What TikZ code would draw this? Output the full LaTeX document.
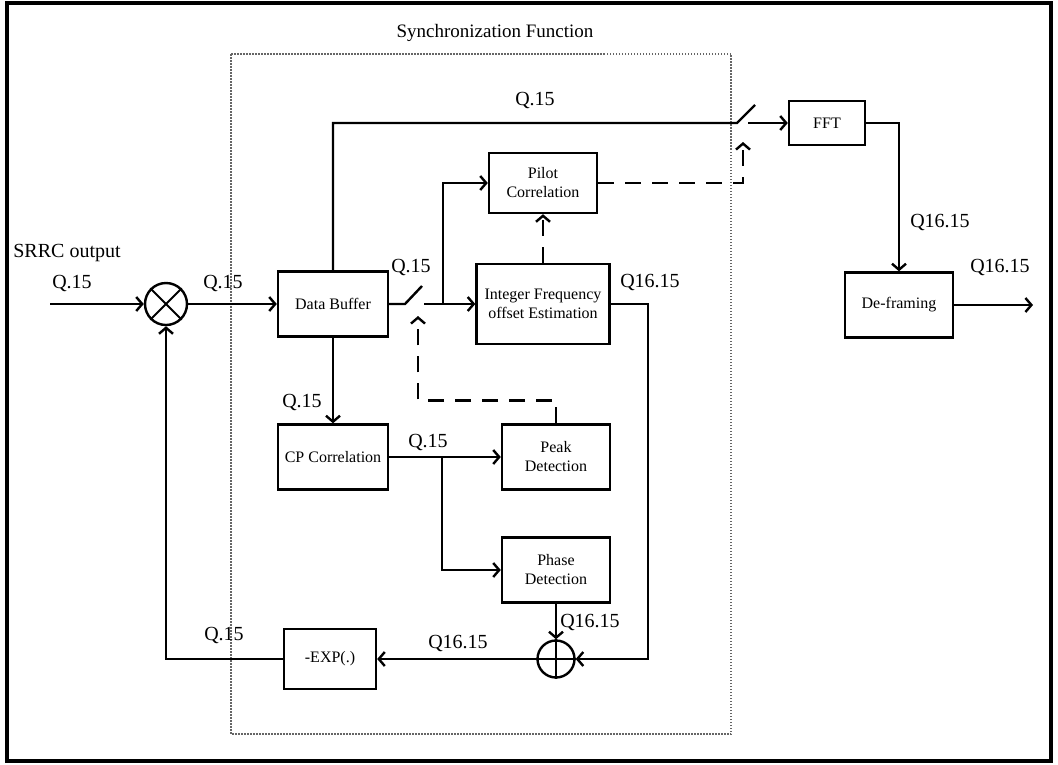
\documentclass[tikz,border=0pt]{standalone}
\usepackage{fontspec}
\setmainfont{Liberation Serif}
\usetikzlibrary{arrows.meta}

\tikzstyle{every node}=[inner sep=0pt, font={\fontsize{16}{19}\selectfont}]
\tikzstyle{block}=[draw, line width=2.4pt, align=center, minimum width=108pt, minimum height=65pt]
\tikzstyle{sum}=[draw, circle, line width=2.4pt]
\tikzstyle{lbl}=[font={\fontsize{20}{24}\selectfont}]
\tikzstyle{wire}=[line width=2.4pt, ->]
\tikzstyle{ctrl}=[line width=2.4pt, dash pattern=on 16pt off 11pt, ->]

\begin{document}
\begin{tikzpicture}[x=1pt, y=-1pt, >={Straight Barb[length=6pt,width=14pt]}]
    \useasboundingbox (0,0) rectangle (1058,764);
    \draw [line width=4pt] (7,3) rectangle (1051,761);
    \draw [black!60, line width=1.5pt, dash pattern=on 1.5pt off 1.5pt] (231,54) rectangle (731,734);
    \node [font={\fontsize{19}{22}\selectfont}] (syncttl) at (495,33) {Synchronization Function};

    % blocks
    \node [block, minimum width=110pt] (buf) at (333,304) {Data Buffer};
    \node [block, minimum width=110pt] (cp) at (333,457) {CP Correlation};
    \node [block, minimum height=60pt] (pilot) at (543,183) {Pilot\\Correlation};
    \node [block, minimum width=133pt, minimum height=80pt] (ife) at (543,304) {Integer Frequency\\offset Estimation};
    \node [block] (peak) at (556,457) {Peak\\Detection};
    \node [block] (phase) at (556,570) {Phase\\Detection};
    \node [block, minimum width=92pt, minimum height=60pt] (exp) at (330,659) {-EXP(.)};
    \node [block, minimum width=76pt, minimum height=44pt] (fft) at (827,123) {FFT};
    \node [block] (defr) at (899,305) {De-framing};
    \node [sum, minimum size=42pt] (mul) at (166,304) {};
    \node [sum, minimum size=37pt] (add) at (556,659) {};
    \draw [line width=2pt] (mul.north west) -- (mul.south east) (mul.north east) -- (mul.south west);
    \draw [line width=2pt] (add.north) -- (add.south) (add.west) -- (add.east);

    % switch points and free ends
    \coordinate (inp) at (50,304);
    \coordinate (outp) at (1033,305);
    \coordinate (swa) at (405,304);
    \coordinate (swb) at (422,286);
    \coordinate (swc) at (424,304);
    \coordinate (ja) at (443,304);
    \coordinate (jb) at (442,457);
    \coordinate (swd) at (737,123);
    \coordinate (swe) at (755,105);
    \coordinate (swf) at (748,123);
    \coordinate (tipa) at (743,142);
    \coordinate (tipb) at (418,316);

    % signal paths
    \draw [wire] (inp) -- (mul.west);
    \draw [wire] (mul.east) -- (buf.west);
    \draw [wire, -] (buf.east) -- (swa) -- (swb);
    \draw [wire] (swc) -- (ife.west);
    \draw [wire] (ja) |- (pilot.west);
    \draw [wire, -] (buf.north) |- (swd) -- (swe);
    \draw [wire] (swf) -- (fft.west);
    \draw [wire] (fft.east) -| (defr.north);
    \draw [wire] (defr.east) -- (outp);
    \draw [wire] (buf.south) -- (cp.north);
    \draw [wire] (cp.east) -- (peak.west);
    \draw [wire] (jb) |- (phase.west);
    \draw [wire] (phase.south) -- (add.north);
    \draw [wire] (ife.east) -- ++(37,0) |- (add.east);
    \draw [wire] (add.west) -- (exp.east);
    \draw [wire] (exp.west) -| (mul.south);

    % control paths
    \draw [ctrl] (pilot.east) -| (tipa);
    \draw [ctrl] (ife.north) -- (pilot.south);
    \draw [ctrl] (peak.north) -- ++(0,-23) -| (tipb);

    % word lengths
    \node [lbl] (srrc) at (67,253) {SRRC output};
    \node [lbl] (qin) at (72,283) {Q.15};
    \node [lbl] (qmul) at (223,283) {Q.15};
    \node [lbl] (qtop) at (535,100) {Q.15};
    \node [lbl] (qsw) at (411,267) {Q.15};
    \node [lbl] (qife) at (650,282) {Q16.15};
    \node [lbl] (qbuf) at (302,402) {Q.15};
    \node [lbl] (qcp) at (428,442) {Q.15};
    \node [lbl] (qphase) at (590,622) {Q16.15};
    \node [lbl] (qadd) at (458,643) {Q16.15};
    \node [lbl] (qexp) at (224,635) {Q.15};
    \node [lbl] (qfft) at (940,222) {Q16.15};
    \node [lbl] (qout) at (1000,267) {Q16.15};
\end{tikzpicture}
\end{document}
